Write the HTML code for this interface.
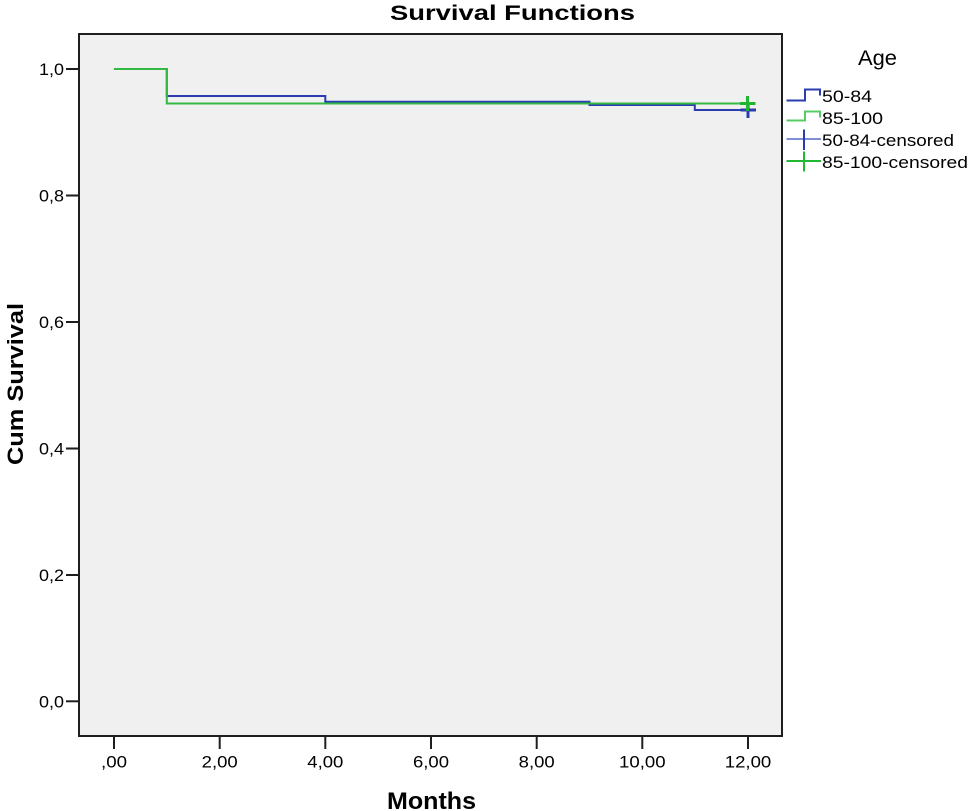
<!DOCTYPE html>
<html>
<head>
<meta charset="utf-8">
<style>
  html, body { margin: 0; padding: 0; background: #ffffff; }
  svg { display: block; }
  text { font-family: "Liberation Sans", Arial, sans-serif; fill: #000; }
</style>
</head>
<body>
<svg width="969" height="811" viewBox="0 0 969 811" xmlns="http://www.w3.org/2000/svg">
  <rect x="0" y="0" width="969" height="811" fill="#ffffff"/>

  <!-- Title -->
  <text x="390" y="20" font-size="21" font-weight="bold" textLength="245" lengthAdjust="spacingAndGlyphs">Survival Functions</text>

  <!-- Plot area -->
  <rect x="79" y="34" width="703" height="702" fill="#f0f0f0" stroke="#1e1e1e" stroke-width="2"/>

  <!-- Y ticks -->
  <g stroke="#1e1e1e" stroke-width="2">
    <line x1="66" y1="69" x2="78" y2="69"/>
    <line x1="66" y1="195.5" x2="78" y2="195.5"/>
    <line x1="66" y1="322" x2="78" y2="322"/>
    <line x1="66" y1="448.5" x2="78" y2="448.5"/>
    <line x1="66" y1="575" x2="78" y2="575"/>
    <line x1="66" y1="701.3" x2="78" y2="701.3"/>
  </g>
  <g font-size="17" text-anchor="end">
    <text x="64" y="75" textLength="25" lengthAdjust="spacingAndGlyphs">1,0</text>
    <text x="64" y="201.5" textLength="25" lengthAdjust="spacingAndGlyphs">0,8</text>
    <text x="64" y="328" textLength="25" lengthAdjust="spacingAndGlyphs">0,6</text>
    <text x="64" y="454.5" textLength="25" lengthAdjust="spacingAndGlyphs">0,4</text>
    <text x="64" y="581" textLength="25" lengthAdjust="spacingAndGlyphs">0,2</text>
    <text x="64" y="707.3" textLength="25" lengthAdjust="spacingAndGlyphs">0,0</text>
  </g>

  <!-- X ticks -->
  <g stroke="#1e1e1e" stroke-width="2">
    <line x1="114" y1="737" x2="114" y2="749"/>
    <line x1="219.7" y1="737" x2="219.7" y2="749"/>
    <line x1="325.3" y1="737" x2="325.3" y2="749"/>
    <line x1="431" y1="737" x2="431" y2="749"/>
    <line x1="536.7" y1="737" x2="536.7" y2="749"/>
    <line x1="642.3" y1="737" x2="642.3" y2="749"/>
    <line x1="748" y1="737" x2="748" y2="749"/>
  </g>
  <g font-size="17" text-anchor="middle">
    <text x="114" y="767.5" textLength="26" lengthAdjust="spacingAndGlyphs">,00</text>
    <text x="219.7" y="767.5" textLength="36" lengthAdjust="spacingAndGlyphs">2,00</text>
    <text x="325.3" y="767.5" textLength="36" lengthAdjust="spacingAndGlyphs">4,00</text>
    <text x="431" y="767.5" textLength="36" lengthAdjust="spacingAndGlyphs">6,00</text>
    <text x="536.7" y="767.5" textLength="36" lengthAdjust="spacingAndGlyphs">8,00</text>
    <text x="642.3" y="767.5" textLength="46.5" lengthAdjust="spacingAndGlyphs">10,00</text>
    <text x="748" y="767.5" textLength="46.5" lengthAdjust="spacingAndGlyphs">12,00</text>
  </g>

  <!-- Axis labels -->
  <text x="387" y="809" font-size="24" font-weight="bold" textLength="89" lengthAdjust="spacingAndGlyphs">Months</text>
  <text transform="translate(23,384) rotate(-90)" x="0" y="0" font-size="22" font-weight="bold" text-anchor="middle" textLength="162" lengthAdjust="spacingAndGlyphs">Cum Survival</text>

  <!-- Blue series (50-84) -->
  <polyline fill="none" stroke="#2a3cb0" stroke-width="2"
    points="114,69 166.8,69 166.8,96 325.3,96 325.3,101.7 589.5,101.7 589.5,105 694.8,105 694.8,110 748,110"/>
  <!-- Green series (85-100) -->
  <polyline fill="none" stroke="#33b843" stroke-width="2"
    points="114,69 166.8,69 166.8,103.5 748,103.5"/>

  <!-- Censored markers -->
  <g stroke="#2a3cb0" stroke-width="3">
    <line x1="740.5" y1="110" x2="756" y2="110"/>
    <line x1="748" y1="102" x2="748" y2="118"/>
  </g>
  <g stroke="#1fb52f" stroke-width="3">
    <line x1="740" y1="103.5" x2="755.5" y2="103.5"/>
    <line x1="747.5" y1="96" x2="747.5" y2="111"/>
  </g>

  <!-- Legend -->
  <text x="858" y="65" font-size="21" textLength="39" lengthAdjust="spacingAndGlyphs">Age</text>

  <polyline fill="none" stroke="#2a3cb0" stroke-width="2"
    points="786.5,100.5 805,100.5 805,89.5 820,89.5 820,95.5"/>
  <text x="822" y="102" font-size="17" textLength="50" lengthAdjust="spacingAndGlyphs">50-84</text>

  <polyline fill="none" stroke="#55cc66" stroke-width="2"
    points="786.5,120.5 805,120.5 805,111.5 820,111.5 820,117.5"/>
  <text x="822" y="124" font-size="17" textLength="61" lengthAdjust="spacingAndGlyphs">85-100</text>

  <line x1="786.5" y1="139" x2="821" y2="139" stroke="#7f8fd6" stroke-width="2"/>
  <line x1="804" y1="129.5" x2="804" y2="150" stroke="#2a3cb0" stroke-width="2"/>
  <text x="822" y="146" font-size="17" textLength="132" lengthAdjust="spacingAndGlyphs">50-84-censored</text>

  <line x1="786.5" y1="161" x2="821" y2="161" stroke="#22b832" stroke-width="2"/>
  <line x1="804" y1="151.5" x2="804" y2="171.5" stroke="#22b832" stroke-width="2"/>
  <text x="822" y="168" font-size="17" textLength="146" lengthAdjust="spacingAndGlyphs">85-100-censored</text>
</svg>
</body>
</html>
